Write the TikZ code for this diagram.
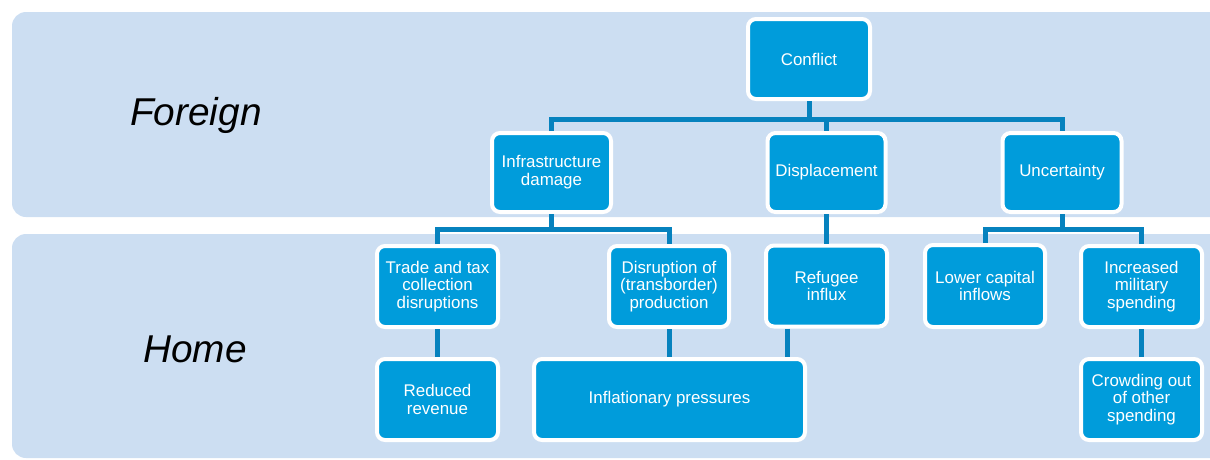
\documentclass[tikz,border=0pt]{standalone}
\usepackage{fontspec}
\setmainfont{Liberation Sans}
\usetikzlibrary{positioning}
\definecolor{bandblue}{HTML}{CCDEF2}
\definecolor{boxblue}{HTML}{009CDB}
\definecolor{linkblue}{HTML}{0682BE}
\tikzset{
  band/.style={fill=bandblue, draw=none, rounded corners=14pt},
  level/.style={font=\fontsize{38.8}{44}\selectfont\itshape, text=black},
  box/.style={draw=white, line width=4pt, fill=boxblue, rounded corners=8pt,
    text=white, align=center, inner sep=2pt,
    font=\fontsize{16.9}{17.8}\selectfont,
    minimum width=120pt, minimum height=80pt},
  link/.style={draw=linkblue, line width=5pt}
}
\begin{document}
\begin{tikzpicture}[x=1pt, y=-1pt]
\useasboundingbox (0,0) rectangle (1210,459);
% the two bands
\path[band] (12,12) rectangle (1240,217);
\path[band] (12,234) rectangle (1240,458);
\node[level] (foreign) at (196,115) {Foreign};
\node[level] (home) at (195,349) {Home};

% boxes
\node[box, minimum width=122pt] (conflict) at (809,59) {Conflict};
\node[box, minimum width=119pt, minimum height=79pt] (infra) at (551.5,172.5) {Infrastructure\\damage};
\node[box, minimum width=118pt, minimum height=79pt] (displ) at (826.5,172.5) {Displacement};
\node[box, minimum width=119pt, minimum height=79pt] (uncert) at (1062,172.5) {Uncertainty};

\node[box, minimum width=121pt, minimum height=81pt] (trade) at (437.5,286.5) {Trade and tax\\collection\\disruptions};
\node[box, minimum width=120pt, minimum height=81pt] (disrupt) at (669,286.5) {Disruption of\\(transborder)\\production};
\node[box, minimum width=121pt, minimum height=81pt] (refugee) at (826.5,286) {Refugee\\influx};
\node[box, minimum width=120pt, minimum height=82pt] (lower) at (985,286) {Lower capital\\inflows};
\node[box, minimum width=121pt, minimum height=81pt] (military) at (1141.5,286.5) {Increased\\military\\spending};

\node[box, minimum width=121pt, minimum height=81pt] (revenue) at (437.5,399.5) {Reduced\\revenue};
\node[box, minimum width=271pt, minimum height=81pt] (inflation) at (669.5,399.5) {Inflationary pressures};
\node[box, minimum width=121pt, minimum height=81pt] (crowding) at (1141.5,399.5) {Crowding out\\of other\\spending};

% connectors
\coordinate (busA) at (809,119);
\coordinate (busB) at (809,229);
\draw[link] (conflict.south) -- (busA);
\draw[link] (infra.north) |- (busA) -| (uncert.north);
\draw[link] (busA) -| (displ.north);

\draw[link] (infra.south) -- (infra.south |- busB);
\draw[link] (trade.north) |- (infra.south |- busB) -| (disrupt.north);

\draw[link] (displ.south) -- (refugee.north);

\draw[link] (uncert.south) -- (uncert.south |- busB);
\draw[link] (lower.north) |- (uncert.south |- busB) -| (military.north);

\draw[link] (trade.south) -- (revenue.north);
\draw[link] (disrupt.south) -- (disrupt.south |- inflation.north);
\draw[link] ([xshift=-39.5pt]refugee.south) -- ([xshift=-39.5pt]refugee.south |- inflation.north);
\draw[link] (military.south) -- (crowding.north);
\end{tikzpicture}
\end{document}
